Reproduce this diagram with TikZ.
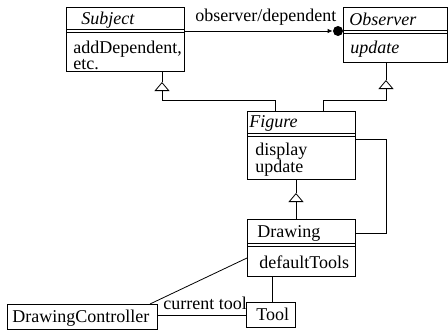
\documentclass[tikz,border=0pt]{standalone}
\usepackage{fontspec}
\setmainfont{Liberation Serif}
\usetikzlibrary{arrows.meta}
\begin{document}
\begin{tikzpicture}[x=1pt,y=-1pt,line width=0.8pt,
  cls/.style={draw,anchor=north west,inner sep=0pt},
  txt/.style={anchor=base west,inner sep=0pt,font=\fontsize{18}{14}\selectfont},
  itxt/.style={txt,font=\fontsize{18}{14}\selectfont\itshape},
  gen/.style={-{Triangle[open,length=9pt,width=15pt]}},
  assoc/.style={-{Latex[length=5pt,width=4.5pt]}}]
\useasboundingbox (0,0) rectangle (448,332);
% class boxes
\node[cls,minimum width=118pt,minimum height=64pt] (sub) at (66,7) {};
\node[cls,minimum width=104pt,minimum height=55pt] (obs) at (343,7) {};
\node[cls,minimum width=108pt,minimum height=68pt] (fig) at (247,111) {};
\node[cls,minimum width=108pt,minimum height=57pt] (drw) at (247,219) {};
\node[cls,minimum width=49pt,minimum height=25pt] (tool) at (246,302) {};
\node[cls,minimum width=150pt,minimum height=25pt] (dc) at (7,304) {};
% separators
\draw (sub.west |- 0,29) -- (sub.east |- 0,29) (sub.west |- 0,32) -- (sub.east |- 0,32);
\draw (obs.west |- 0,30) -- (obs.east |- 0,30) (obs.west |- 0,33) -- (obs.east |- 0,33);
\draw (fig.west |- 0,133) -- (fig.east |- 0,133) (fig.west |- 0,136) -- (fig.east |- 0,136);
\draw (drw.west |- 0,243) -- (drw.east |- 0,243) (drw.west |- 0,246) -- (drw.east |- 0,246);
% texts
\node[itxt] (subn) at (81,24) {Subject};
\node[txt] (sub1) at (73,53) {addDependent,};
\node[txt] (sub2) at (73,70) {etc.};
\node[itxt] (obsn) at (349,25) {Observer};
\node[itxt] (obs1) at (350,53) {update};
\node[itxt] (fign) at (249,127) {Figure};
\node[txt] (fig1) at (255,155) {display};
\node[txt] (fig2) at (255,172) {update};
\node[txt] (drwn) at (257,237) {Drawing};
\node[txt] (drw1) at (259,268) {defaultTools};
\node[txt] (tooln) at (256,320) {Tool};
\node[txt] (dcn) at (12,322) {DrawingController};
% observer/dependent association
\node[circle,fill,inner sep=0pt,minimum size=10pt] (dot) at (338,31) {};
\draw[assoc] (sub.east |- dot) -- (dot.west);
\node[txt] (odl) at (195,21) {observer/dependent};
% generalizations to Subject and Observer
\coordinate (ta1) at (162,82);
\coordinate (tb1) at (162,100);
\coordinate (ta2) at (386,80);
\coordinate (tb2) at (386,100);
\draw (sub.south -| ta1) -- (ta1);
\draw[gen] (fig.north -| 275,0) |- (tb1) -- (ta1);
\draw (obs.south -| ta2) -- (ta2);
\draw[gen] (fig.north -| 323,0) |- (tb2) -- (ta2);
% Drawing -> Figure
\coordinate (ta3) at (296,193);
\draw (fig.south -| ta3) -- (ta3);
\draw[gen] (drw.north -| ta3) -- (ta3);
% Drawing side line to Figure
\coordinate (rc) at (386,0);
\draw (fig.east |- 0,139) -| (rc |- 0,233) -- (drw.east |- 0,233);
% Drawing to tool, controller
\draw (drw.south -| 272,0) -- (tool.north -| 272,0);
\draw (drw.west |- 0,258) -- (dc.north -| 150,0);
\draw (dc.east |- 0,315) -- (tool.west |- 0,315);
\node[txt] (ctl) at (163,309) {current tool};
\end{tikzpicture}
\end{document}
